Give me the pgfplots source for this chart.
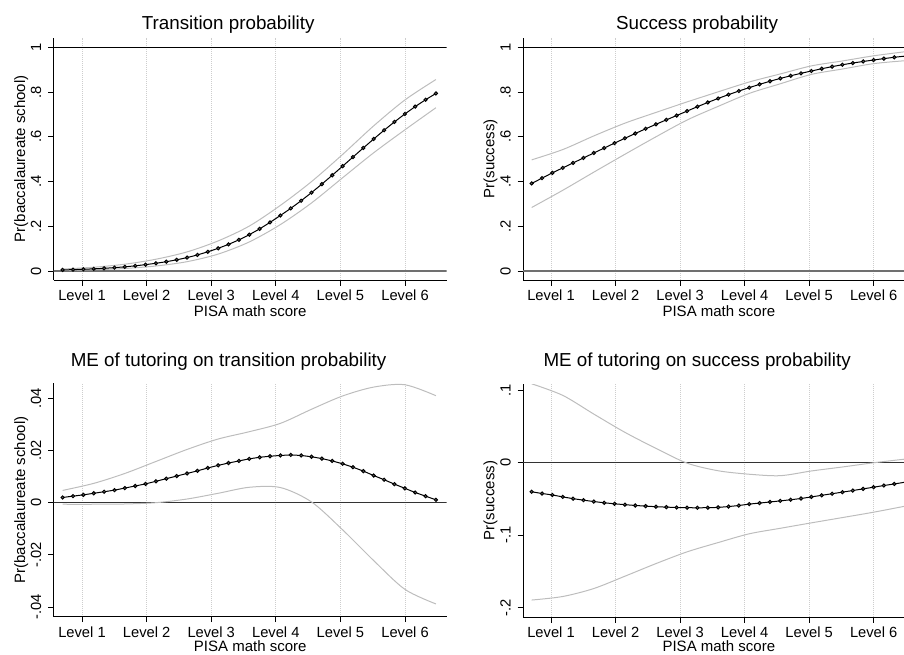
\documentclass[border=0pt]{standalone}
\usepackage{pgfplots}
\usepackage{pgfplotstable}
\pgfplotsset{compat=1.18}
\usepackage{fontspec}
\setmainfont{Liberation Sans}

\definecolor{cigray}{HTML}{BDBDBD}
\definecolor{gridgray}{HTML}{CDCDCD}
\definecolor{mkgray}{HTML}{777777}
\definecolor{zerogray}{HTML}{707070}

% transition probability
\pgfplotstableread{
x m
0.700 0.0050
0.861 0.0063
1.021 0.0080
1.182 0.0099
1.342 0.0123
1.503 0.0152
1.663 0.0188
1.824 0.0233
1.984 0.0287
2.145 0.0347
2.305 0.0417
2.466 0.0502
2.626 0.0601
2.787 0.0720
2.947 0.0860
3.108 0.1016
3.268 0.1192
3.429 0.1394
3.589 0.1625
3.750 0.1885
3.910 0.2174
4.071 0.2483
4.231 0.2801
4.392 0.3143
4.552 0.3505
4.713 0.3886
4.873 0.4281
5.034 0.4688
5.194 0.5095
5.355 0.5503
5.515 0.5903
5.676 0.6294
5.836 0.6666
5.997 0.7020
6.157 0.7350
6.318 0.7657
6.478 0.7938
}\transm
\pgfplotstableread{
x lo hi
0.700 0.0027 0.0090
1.182 0.0057 0.0171
1.663 0.0115 0.0306
2.145 0.0226 0.0529
2.626 0.0419 0.0856
3.108 0.0759 0.1348
3.589 0.1301 0.2010
4.071 0.2078 0.2936
4.552 0.3043 0.3996
5.034 0.4170 0.5213
5.515 0.5287 0.6490
5.997 0.6310 0.7645
6.478 0.7300 0.8560
}\transci

% success probability
\pgfplotstableread{
x m
0.700 0.3917
0.861 0.4153
1.021 0.4390
1.182 0.4611
1.342 0.4833
1.503 0.5055
1.663 0.5277
1.824 0.5498
1.984 0.5718
2.145 0.5935
2.305 0.6147
2.466 0.6358
2.626 0.6559
2.787 0.6759
2.947 0.6951
3.108 0.7150
3.268 0.7346
3.429 0.7536
3.589 0.7715
3.750 0.7885
3.910 0.8046
4.071 0.8198
4.231 0.8345
4.392 0.8483
4.552 0.8610
4.713 0.8728
4.873 0.8838
5.034 0.8941
5.194 0.9043
5.355 0.9137
5.515 0.9221
5.676 0.9298
5.836 0.9368
5.997 0.9431
6.157 0.9496
6.318 0.9554
6.478 0.9605
}\succm
\pgfplotstableread{
x lo hi
0.700 0.284 0.497
1.182 0.361 0.543
1.663 0.442 0.604
2.145 0.522 0.661
2.626 0.600 0.709
3.108 0.675 0.756
3.589 0.736 0.801
4.071 0.794 0.845
4.552 0.837 0.881
5.034 0.879 0.917
5.515 0.903 0.939
5.997 0.927 0.962
6.478 0.940 0.980
}\succci

% ME of tutoring on transition probability
\pgfplotstableread{
x m
0.700 0.0020
0.861 0.0025
1.021 0.0030
1.182 0.0036
1.342 0.0042
1.503 0.0048
1.663 0.0056
1.824 0.0064
1.984 0.0072
2.145 0.0082
2.305 0.0092
2.466 0.0102
2.626 0.0112
2.787 0.0122
2.947 0.0133
3.108 0.0143
3.268 0.0152
3.429 0.0160
3.589 0.0168
3.750 0.0174
3.910 0.0178
4.071 0.0181
4.231 0.0183
4.392 0.0181
4.552 0.0176
4.713 0.0169
4.873 0.0160
5.034 0.0149
5.194 0.0136
5.355 0.0121
5.515 0.0104
5.676 0.0088
5.836 0.0071
5.997 0.0055
6.157 0.0039
6.318 0.0025
6.478 0.0011
}\metransm
\pgfplotstableread{
x lo hi
0.700 -0.0006 0.0047
1.182 -0.0006 0.0074
1.663 -0.0005 0.0112
2.145 0.0000 0.0158
2.626 0.0014 0.0204
3.108 0.0036 0.0244
3.589 0.0059 0.0272
4.071 0.0058 0.0304
4.552 0.0003 0.0358
5.034 -0.0104 0.0409
5.515 -0.0222 0.0443
5.997 -0.0332 0.0452
6.478 -0.0388 0.0410
}\metransci

% ME of tutoring on success probability
\pgfplotstableread{
x m
0.700 -0.0400
0.861 -0.0424
1.021 -0.0444
1.182 -0.0471
1.342 -0.0495
1.503 -0.0516
1.663 -0.0535
1.824 -0.0552
1.984 -0.0566
2.145 -0.0578
2.305 -0.0589
2.466 -0.0598
2.626 -0.0606
2.787 -0.0612
2.947 -0.0617
3.108 -0.0620
3.268 -0.0621
3.429 -0.0620
3.589 -0.0616
3.750 -0.0604
3.910 -0.0590
4.071 -0.0570
4.231 -0.0556
4.392 -0.0541
4.552 -0.0526
4.713 -0.0510
4.873 -0.0493
5.034 -0.0471
5.194 -0.0449
5.355 -0.0427
5.515 -0.0405
5.676 -0.0383
5.836 -0.0360
5.997 -0.0337
6.157 -0.0314
6.318 -0.0292
6.478 -0.0269
}\mesuccm
\pgfplotstableread{
x lo hi
0.700 -0.1894 0.1090
1.182 -0.1845 0.0930
1.663 -0.1735 0.0672
2.145 -0.1565 0.0420
2.626 -0.1391 0.0199
3.108 -0.1229 -0.0005
3.589 -0.1101 -0.0110
4.071 -0.0980 -0.0158
4.552 -0.0904 -0.0178
5.034 -0.0829 -0.0113
5.515 -0.0756 -0.0058
5.997 -0.0682 0.0000
6.478 -0.0600 0.0050
}\mesuccci

\pgfplotsset{
  panel/.style={
    scale only axis,
    anchor=south west,
    axis x line*=bottom, axis y line*=left,
    axis line style={-, black, line width=0.9pt},
    xtick={1,2,3,4,5,6},
    xticklabels={Level 1,Level 2,Level 3,Level 4,Level 5,Level 6},
    tick align=outside,
    major tick length=5.5pt,
    tick style={black, line width=0.8pt},
    xmajorgrids,
    grid style={dash pattern=on 0.8pt off 1.2pt, gridgray, line width=0.8pt},
    scaled y ticks=false,
    every axis title shift=0pt,
    ticklabel style={font=\fontsize{14.7}{16}\selectfont},
    label style={font=\fontsize{15}{17}\selectfont},
    title style={font=\fontsize{18.8}{21}\selectfont, anchor=base},
    xticklabel style={anchor=base, yshift=-15pt},
    yticklabel style={rotate=90, anchor=base},
    yticklabel shift=7pt,
    xlabel={PISA math score},
    xlabel style={anchor=base},
    ylabel style={anchor=base},
    /pgf/number format/assume math mode=true,
  },
  leftcol/.style={xmin=0.562, xmax=6.645, width=393pt,
    title style={at={([yshift=7.7pt]axis description cs:0.444,1)}},
    xlabel style={at={([yshift=-36pt]axis description cs:0.5,0)}}},
  rightcol/.style={xmin=0.566, xmax=6.469, width=381pt,
    title style={at={([yshift=7.7pt]axis description cs:0.457,1)}},
    xlabel style={at={([yshift=-36pt]axis description cs:0.514,0)}}},
  main/.style={black, line width=1pt, mark=*, mark size=1.6pt,
    mark options={draw=none, fill=mkgray}},
  ci/.style={cigray, line width=1pt, smooth},
}

\begin{document}
\begin{tikzpicture}
\useasboundingbox (0,0) rectangle (904pt,654pt);

% top left
\begin{axis}[panel, leftcol, at={(53.7pt,374pt)}, height=242.3pt,
  ymin=-0.040, ymax=1.043,
  ytick={0,0.2,0.4,0.6,0.8,1}, yticklabels={0,.2,.4,.6,.8,1},
  title={Transition probability},
  ylabel={Pr(baccalaureate school)},
  ylabel style={at={([xshift=-28.7pt]axis description cs:0,0.5)}}]
\addplot[black, line width=0.9pt] coordinates {(0,1) (7,1)};
\addplot[zerogray, line width=1.8pt] coordinates {(0,0) (7,0)};
\addplot[ci] table[x=x, y=hi] {\transci};
\addplot[ci] table[x=x, y=lo] {\transci};
\addplot[main] table[x=x, y=m] {\transm};
\end{axis}

% top right
\begin{axis}[panel, rightcol, at={(523pt,374pt)}, height=242.3pt,
  ymin=-0.040, ymax=1.043,
  ytick={0,0.2,0.4,0.6,0.8,1}, yticklabels={0,.2,.4,.6,.8,1},
  title={Success probability},
  ylabel={Pr(success)},
  ylabel style={at={([xshift=-28.7pt]axis description cs:0,0.5)}}]
\addplot[black, line width=0.9pt] coordinates {(0,1) (7,1)};
\addplot[zerogray, line width=1.8pt] coordinates {(0,0) (7,0)};
\addplot[ci] table[x=x, y=hi] {\succci};
\addplot[ci] table[x=x, y=lo] {\succci};
\addplot[main] table[x=x, y=m] {\succm};
\end{axis}

% bottom left
\begin{axis}[panel, leftcol, at={(53.7pt,37.3pt)}, height=233.4pt,
  ymin=-0.0437, ymax=0.04575,
  ytick={-0.04,-0.02,0,0.02,0.04}, yticklabels={-.04,-.02,0,.02,.04},
  title style={at={([yshift=17pt]axis description cs:0.445,1)}},
  xlabel style={at={([yshift=-34.5pt]axis description cs:0.5,0)}},
  title={ME of tutoring on transition probability},
  ylabel={Pr(baccalaureate school)},
  ylabel style={at={([xshift=-28.7pt]axis description cs:0,0.5)}}]
\addplot[black!80, line width=1.1pt] coordinates {(0,0) (7,0)};
\addplot[ci] table[x=x, y=hi] {\metransci};
\addplot[ci] table[x=x, y=lo] {\metransci};
\addplot[main] table[x=x, y=m] {\metransm};
\end{axis}

% bottom right
\begin{axis}[panel, rightcol, at={(523pt,37pt)}, height=233pt,
  ymin=-0.2128, ymax=0.1087,
  ytick={-0.2,-0.1,0,0.1}, yticklabels={-.2,-.1,0,.1},
  title style={at={([yshift=17.5pt]axis description cs:0.457,1)}},
  xlabel style={at={([yshift=-34.5pt]axis description cs:0.514,0)}},
  title={ME of tutoring on success probability},
  ylabel={Pr(success)},
  ylabel style={at={([xshift=-28.7pt]axis description cs:0,0.5)}}]
\addplot[black!80, line width=1.1pt] coordinates {(0,0) (7,0)};
\addplot[ci] table[x=x, y=hi] {\mesuccci};
\addplot[ci] table[x=x, y=lo] {\mesuccci};
\addplot[main] table[x=x, y=m] {\mesuccm};
\end{axis}
\end{tikzpicture}
\end{document}
